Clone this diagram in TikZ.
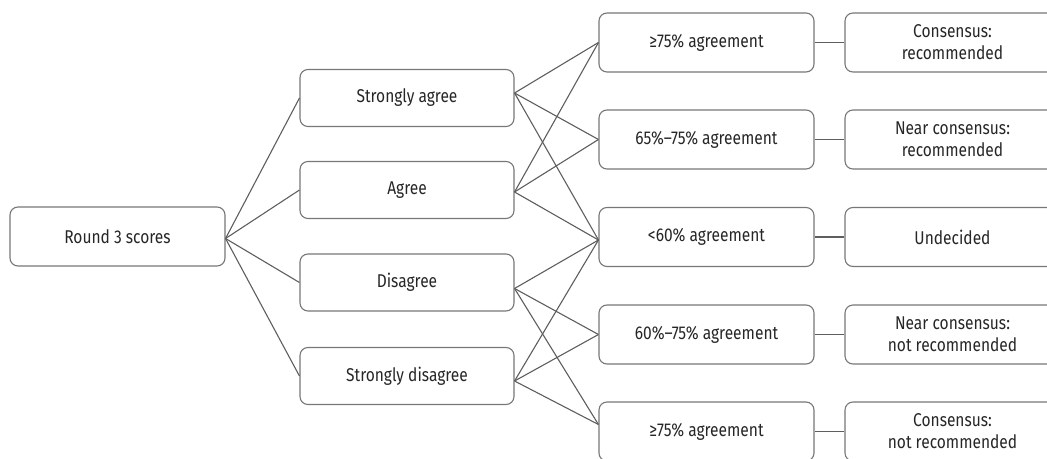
\documentclass[tikz,border=0pt]{standalone}
\usepackage{fontspec}
\setmainfont{Fira Sans}[FakeStretch=0.84]
\begin{document}
\begin{tikzpicture}[x=1pt,y=-1pt,
  box/.style={draw=boxgray, line width=1.1pt, rounded corners=8pt, minimum width=215pt,
    minimum height=59pt, inner sep=0pt, align=center, text=txt, font=\fontsize{18.5}{22}\selectfont},
  sbox/.style={box, minimum width=214pt, minimum height=57pt},
  link/.style={draw=linegray, line width=1.1pt}]
\definecolor{boxgray}{HTML}{777777}
\definecolor{linegray}{HTML}{5E5E5E}
\definecolor{txt}{HTML}{262626}
\useasboundingbox (0,0) rectangle (1047,458);
\node[box] (r3) at (117.5,236.5) {Round 3 scores};
\node[sbox] (sa) at (407,98) {Strongly agree};
\node[sbox] (ag) at (407,190) {Agree};
\node[sbox] (di) at (407,282.5) {Disagree};
\node[sbox] (sd) at (407,376) {Strongly disagree};
\node[box] (t1) at (706.5,42.5) {≥75\% agreement};
\node[box] (t2) at (706.5,139.5) {65\%–75\% agreement};
\node[box] (t3) at (706.5,237) {<60\% agreement};
\node[box] (t4) at (706.5,334.5) {60\%–75\% agreement};
\node[box] (t5) at (706.5,431.5) {≥75\% agreement};
\node[box] (c1) at (952.5,42.5) {Consensus:\\recommended};
\node[box] (c2) at (952.5,139.5) {Near consensus:\\recommended};
\node[box] (c3) at (952.5,237) {Undecided};
\node[box] (c4) at (952.5,334.5) {Near consensus:\\not recommended};
\node[box] (c5) at (952.5,431.5) {Consensus:\\not recommended};
\coordinate (r3e) at ([yshift=-2pt]r3.east);
\coordinate (sae) at ([yshift=5pt]sa.east);
\coordinate (age) at ([yshift=-2pt]ag.east);
\coordinate (die) at ([yshift=-6pt]di.east);
\coordinate (sde) at ([yshift=-5pt]sd.east);
\coordinate (t3w) at ([yshift=-3pt]t3.west);
\coordinate (t5w) at ([yshift=7pt]t5.west);
\foreach \n in {sa,ag,di,sd} \draw[link] (r3e) -- (\n.west);
\foreach \n in {sae,age} {
  \draw[link] (\n) -- (t1.west);
  \draw[link] (\n) -- (t2.west);
  \draw[link] (\n) -- (t3w);
}
\foreach \n in {die,sde} {
  \draw[link] (\n) -- (t3w);
  \draw[link] (\n) -- (t4.west);
  \draw[link] (\n) -- (t5w);
}
\foreach \i in {1,...,5} \draw[link] (t\i.east) -- (c\i.west);
\end{tikzpicture}
\end{document}
